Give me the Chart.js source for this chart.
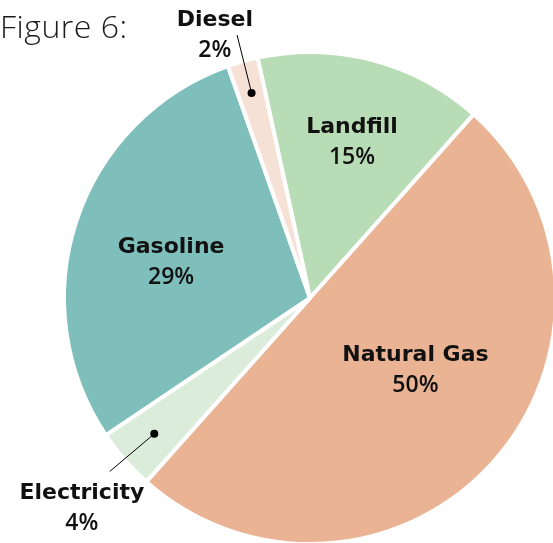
<!DOCTYPE html>
<html>
<head>
<meta charset="utf-8">
<script src="https://cdn.jsdelivr.net/npm/chart.js@4"></script>
<style>
html,body{margin:0;padding:0;background:#fff;overflow:hidden;width:553px;height:543px;}
#wrap{position:absolute;left:0;top:0;width:620px;height:596px;}
#title{position:absolute;left:0;top:4px;font-family:"Open Sans",sans-serif;font-weight:300;font-size:32px;color:#1a1a1a;letter-spacing:0.5px;}
</style>
</head>
<body>
<div id="wrap"><canvas id="c" width="620" height="596"></canvas></div>
<div id="title">Figure 6:</div>
<script>
const categories = ["Landfill", "Natural Gas", "Electricity", "Gasoline", "Diesel"];
const values = [15, 50, 4, 29, 2];
const percentLabels = ["15%", "50%", "4%", "29%", "2%"];
const colors = ["#b8dcb5", "#eab393", "#dcecda", "#7fbfbb", "#f6e1d7"];

// label placement: angle offset (deg) from slice middle, radius fraction; callout definitions
const placement = [
  {da: 0.4, rf: 0.655},
  {da: -7.2, rf: 0.52},
  {da: -1.6, rf: 1.262, dot: 0.84, lineEnd: 1.077, lineDa: 0.2},
  {da: -3.9, rf: 0.583},
  {da: -4.0, rf: 1.137, dot: 0.867, lineEnd: 1.109, lineDa: 0.4}
];

const labelPlugin = {
  id: 'sliceLabels',
  afterDatasetsDraw(chart) {
    const ctx = chart.ctx;
    const arcs = chart.getDatasetMeta(0).data;
    ctx.save();
    arcs.forEach((arc, i) => {
      const p = placement[i];
      const mid = (arc.startAngle + arc.endAngle) / 2;
      const R = arc.outerRadius;
      const pt = (ang, f) => [arc.x + Math.cos(ang) * R * f, arc.y + Math.sin(ang) * R * f];
      if (p.dot) {
        const d = pt(mid, p.dot);
        const e = pt(mid + p.lineDa * Math.PI / 180, p.lineEnd);
        ctx.strokeStyle = '#000';
        ctx.lineWidth = 1;
        ctx.beginPath();
        ctx.moveTo(d[0], d[1]);
        ctx.lineTo(e[0], e[1]);
        ctx.stroke();
        ctx.fillStyle = '#000';
        ctx.beginPath();
        ctx.arc(d[0], d[1], 4, 0, Math.PI * 2);
        ctx.fill();
      }
      const c = pt(mid + p.da * Math.PI / 180, p.rf);
      ctx.fillStyle = '#111';
      ctx.textAlign = 'center';
      ctx.textBaseline = 'middle';
      ctx.font = 'bold 22px "DejaVu Sans", sans-serif';
      ctx.fillText(categories[i], c[0], c[1] - 15);
      ctx.font = '600 23px "Open Sans", sans-serif';
      ctx.fillText(percentLabels[i], c[0], c[1] + 15);
    });
    ctx.restore();
  }
};

new Chart(document.getElementById('c'), {
  type: 'pie',
  data: {
    labels: categories,
    datasets: [{
      data: values,
      backgroundColor: colors,
      borderColor: '#ffffff',
      borderWidth: 4
    }]
  },
  options: {
    responsive: false,
    animation: false,
    rotation: -12.3,
    layout: {padding: 50},
    plugins: {legend: {display: false}, tooltip: {enabled: false}}
  },
  plugins: [labelPlugin]
});
</script>
</body>
</html>
